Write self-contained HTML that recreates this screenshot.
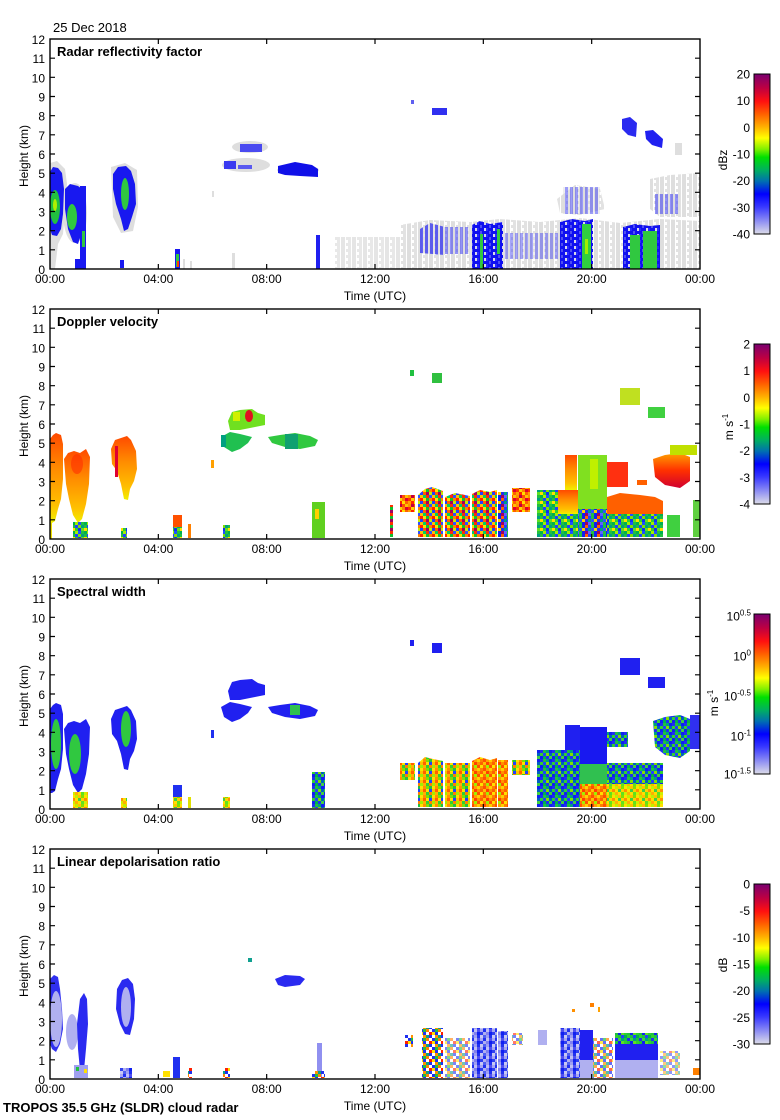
<!DOCTYPE html>
<html><head><meta charset="utf-8"><style>
html,body{margin:0;padding:0;background:#fff;}
svg{display:block;}
text{font-family:"Liberation Sans",Arial,sans-serif;fill:#000;}
</style></head><body>
<svg xmlns="http://www.w3.org/2000/svg" width="780" height="1120" viewBox="0 0 780 1120">
<defs>
<linearGradient id="cb" x1="0" y1="0" x2="0" y2="1">
<stop offset="0" stop-color="#7a0070"/><stop offset="0.09" stop-color="#c00040"/><stop offset="0.17" stop-color="#ff1010"/><stop offset="0.25" stop-color="#ff6000"/><stop offset="0.33" stop-color="#ffb000"/><stop offset="0.40" stop-color="#ffff00"/><stop offset="0.47" stop-color="#80f000"/><stop offset="0.52" stop-color="#00e000"/><stop offset="0.60" stop-color="#00b060"/><stop offset="0.67" stop-color="#0070b0"/><stop offset="0.75" stop-color="#0000ff"/><stop offset="0.83" stop-color="#3838ff"/><stop offset="1" stop-color="#dcdce8"/>
</linearGradient>
<linearGradient id="dopO" x1="0" y1="0" x2="0" y2="1"><stop offset="0" stop-color="#ff4a00"/><stop offset="0.4" stop-color="#ff8c00"/><stop offset="0.8" stop-color="#ffc000"/><stop offset="1" stop-color="#f0f000"/></linearGradient>
<linearGradient id="dopR" x1="0" y1="0" x2="0" y2="1"><stop offset="0" stop-color="#ffa000"/><stop offset="0.5" stop-color="#ff3000"/><stop offset="1" stop-color="#d00030"/></linearGradient>
<pattern id="gs" width="11" height="6" patternUnits="userSpaceOnUse"><rect x="0" y="0" width="4" height="6" fill="#dedede"/><rect x="5" y="0" width="5" height="6" fill="#e2e2e2"/><rect x="5" y="3" width="2" height="3" fill="#ffffff"/></pattern>
<pattern id="bs" width="5" height="4" patternUnits="userSpaceOnUse"><rect x="0" y="0" width="5" height="4" fill="#dcdcdc"/><rect x="0" y="0" width="3" height="4" fill="#3a3af0"/></pattern>
<pattern id="bd" width="9" height="6" patternUnits="userSpaceOnUse"><rect x="0" y="0" width="9" height="6" fill="#1010f0"/><rect x="3" y="0" width="2" height="3" fill="#5050f0"/><rect x="7" y="3" width="2" height="3" fill="#d8d8e8"/><rect x="0" y="3" width="2" height="3" fill="#2828ff"/></pattern>
<pattern id="md" width="12" height="9" patternUnits="userSpaceOnUse"><rect x="0" y="0" width="3" height="3" fill="#ff2000"/><rect x="3" y="0" width="3" height="3" fill="#ffe000"/><rect x="6" y="0" width="3" height="3" fill="#10c030"/><rect x="9" y="0" width="3" height="3" fill="#ff8000"/><rect x="0" y="3" width="3" height="3" fill="#2040ff"/><rect x="3" y="3" width="3" height="3" fill="#ff6000"/><rect x="6" y="3" width="3" height="3" fill="#a00060"/><rect x="9" y="3" width="3" height="3" fill="#c0f000"/><rect x="0" y="6" width="3" height="3" fill="#ffc000"/><rect x="3" y="6" width="3" height="3" fill="#00d060"/><rect x="6" y="6" width="3" height="3" fill="#ff3000"/><rect x="9" y="6" width="3" height="3" fill="#3050ff"/></pattern>
<pattern id="mdr" width="12" height="9" patternUnits="userSpaceOnUse"><rect x="0" y="0" width="3" height="3" fill="#ff3000"/><rect x="3" y="0" width="3" height="3" fill="#ffd000"/><rect x="6" y="0" width="3" height="3" fill="#ff8000"/><rect x="9" y="0" width="3" height="3" fill="#e00030"/><rect x="0" y="3" width="3" height="3" fill="#ffa000"/><rect x="3" y="3" width="3" height="3" fill="#ff2000"/><rect x="6" y="3" width="3" height="3" fill="#ffe000"/><rect x="9" y="3" width="3" height="3" fill="#ff6000"/><rect x="0" y="6" width="3" height="3" fill="#ff9000"/><rect x="3" y="6" width="3" height="3" fill="#c00040"/><rect x="6" y="6" width="3" height="3" fill="#ff5000"/><rect x="9" y="6" width="3" height="3" fill="#ffc000"/></pattern>
<pattern id="mdg" width="12" height="9" patternUnits="userSpaceOnUse"><rect x="0" y="0" width="3" height="3" fill="#20c040"/><rect x="3" y="0" width="3" height="3" fill="#2040ff"/><rect x="6" y="0" width="3" height="3" fill="#80e000"/><rect x="9" y="0" width="3" height="3" fill="#00a080"/><rect x="0" y="3" width="3" height="3" fill="#ffe000"/><rect x="3" y="3" width="3" height="3" fill="#30d030"/><rect x="6" y="3" width="3" height="3" fill="#1030f0"/><rect x="9" y="3" width="3" height="3" fill="#60e020"/><rect x="0" y="6" width="3" height="3" fill="#00b050"/><rect x="3" y="6" width="3" height="3" fill="#a0f000"/><rect x="6" y="6" width="3" height="3" fill="#2050ff"/><rect x="9" y="6" width="3" height="3" fill="#20c040"/></pattern>
<pattern id="mdb" width="12" height="9" patternUnits="userSpaceOnUse"><rect x="0" y="0" width="3" height="3" fill="#2040ff"/><rect x="3" y="0" width="3" height="3" fill="#20c040"/><rect x="6" y="0" width="3" height="3" fill="#1020f0"/><rect x="9" y="0" width="3" height="3" fill="#ff6000"/><rect x="0" y="3" width="3" height="3" fill="#00a080"/><rect x="3" y="3" width="3" height="3" fill="#3050ff"/><rect x="6" y="3" width="3" height="3" fill="#ffd000"/><rect x="9" y="3" width="3" height="3" fill="#2030f0"/><rect x="0" y="6" width="3" height="3" fill="#6060ff"/><rect x="3" y="6" width="3" height="3" fill="#20c040"/><rect x="6" y="6" width="3" height="3" fill="#1020f0"/><rect x="9" y="6" width="3" height="3" fill="#a00060"/></pattern>
<pattern id="msw" width="12" height="9" patternUnits="userSpaceOnUse"><rect x="0" y="0" width="3" height="3" fill="#ffe000"/><rect x="3" y="0" width="3" height="3" fill="#ff9000"/><rect x="6" y="0" width="3" height="3" fill="#80e000"/><rect x="9" y="0" width="3" height="3" fill="#20c040"/><rect x="0" y="3" width="3" height="3" fill="#ffc000"/><rect x="3" y="3" width="3" height="3" fill="#ff6000"/><rect x="6" y="3" width="3" height="3" fill="#ffe000"/><rect x="9" y="3" width="3" height="3" fill="#2040ff"/><rect x="0" y="6" width="3" height="3" fill="#a0f000"/><rect x="3" y="6" width="3" height="3" fill="#ffb000"/><rect x="6" y="6" width="3" height="3" fill="#30d030"/><rect x="9" y="6" width="3" height="3" fill="#ff8000"/></pattern>
<pattern id="mso" width="12" height="9" patternUnits="userSpaceOnUse"><rect x="0" y="0" width="3" height="3" fill="#ff8000"/><rect x="3" y="0" width="3" height="3" fill="#ff5000"/><rect x="6" y="0" width="3" height="3" fill="#ffa000"/><rect x="9" y="0" width="3" height="3" fill="#ffd000"/><rect x="0" y="3" width="3" height="3" fill="#ff6000"/><rect x="3" y="3" width="3" height="3" fill="#ffc000"/><rect x="6" y="3" width="3" height="3" fill="#ff4000"/><rect x="9" y="3" width="3" height="3" fill="#ff9000"/><rect x="0" y="6" width="3" height="3" fill="#ffe000"/><rect x="3" y="6" width="3" height="3" fill="#ff7000"/><rect x="6" y="6" width="3" height="3" fill="#a0f000"/><rect x="9" y="6" width="3" height="3" fill="#ff5000"/></pattern>
<pattern id="mgb" width="12" height="9" patternUnits="userSpaceOnUse"><rect x="0" y="0" width="3" height="3" fill="#2030f0"/><rect x="3" y="0" width="3" height="3" fill="#20c040"/><rect x="6" y="0" width="3" height="3" fill="#00a080"/><rect x="9" y="0" width="3" height="3" fill="#1020f0"/><rect x="0" y="3" width="3" height="3" fill="#30d030"/><rect x="3" y="3" width="3" height="3" fill="#2040ff"/><rect x="6" y="3" width="3" height="3" fill="#80e000"/><rect x="9" y="3" width="3" height="3" fill="#0060c0"/><rect x="0" y="6" width="3" height="3" fill="#1020f0"/><rect x="3" y="6" width="3" height="3" fill="#00b050"/><rect x="6" y="6" width="3" height="3" fill="#2030f0"/><rect x="9" y="6" width="3" height="3" fill="#40d040"/></pattern>
<pattern id="msy" width="12" height="9" patternUnits="userSpaceOnUse"><rect x="0" y="0" width="3" height="3" fill="#ffe000"/><rect x="3" y="0" width="3" height="3" fill="#c0f000"/><rect x="6" y="0" width="3" height="3" fill="#ffc000"/><rect x="9" y="0" width="3" height="3" fill="#80e000"/><rect x="0" y="3" width="3" height="3" fill="#ff9000"/><rect x="3" y="3" width="3" height="3" fill="#ffe000"/><rect x="6" y="3" width="3" height="3" fill="#40d040"/><rect x="9" y="3" width="3" height="3" fill="#ffd000"/><rect x="0" y="6" width="3" height="3" fill="#d0f000"/><rect x="3" y="6" width="3" height="3" fill="#ffb000"/><rect x="6" y="6" width="3" height="3" fill="#ffe000"/><rect x="9" y="6" width="3" height="3" fill="#60e020"/></pattern>
<pattern id="ml" width="12" height="9" patternUnits="userSpaceOnUse"><rect x="0" y="0" width="3" height="3" fill="#2030f0"/><rect x="3" y="0" width="3" height="3" fill="#20c040"/><rect x="6" y="0" width="3" height="3" fill="#ff8000"/><rect x="0" y="3" width="3" height="3" fill="#ffe000"/><rect x="3" y="3" width="3" height="3" fill="#2030f0"/><rect x="9" y="3" width="3" height="3" fill="#ff2000"/><rect x="3" y="6" width="3" height="3" fill="#ff9000"/><rect x="6" y="6" width="3" height="3" fill="#10a080"/><rect x="9" y="6" width="3" height="3" fill="#2030f0"/></pattern>
<pattern id="mlb" width="12" height="9" patternUnits="userSpaceOnUse"><rect x="0" y="0" width="3" height="3" fill="#a8a8f0"/><rect x="3" y="0" width="3" height="3" fill="#2030f0"/><rect x="6" y="0" width="3" height="3" fill="#c0c0f4"/><rect x="9" y="0" width="3" height="3" fill="#5050f0"/><rect x="0" y="3" width="3" height="3" fill="#3040f0"/><rect x="3" y="3" width="3" height="3" fill="#b0b0f0"/><rect x="6" y="3" width="3" height="3" fill="#8080f0"/><rect x="9" y="3" width="3" height="3" fill="#1020f0"/><rect x="0" y="6" width="3" height="3" fill="#c8c8f4"/><rect x="3" y="6" width="3" height="3" fill="#5060f0"/><rect x="6" y="6" width="3" height="3" fill="#a0a0f0"/><rect x="9" y="6" width="3" height="3" fill="#2030f0"/></pattern>
<pattern id="mlg" width="12" height="9" patternUnits="userSpaceOnUse"><rect x="0" y="0" width="3" height="3" fill="#20c040"/><rect x="3" y="0" width="3" height="3" fill="#2030f0"/><rect x="6" y="0" width="3" height="3" fill="#40d040"/><rect x="9" y="0" width="3" height="3" fill="#00a080"/><rect x="0" y="3" width="3" height="3" fill="#30d030"/><rect x="3" y="3" width="3" height="3" fill="#20c040"/><rect x="6" y="3" width="3" height="3" fill="#1020f0"/><rect x="9" y="3" width="3" height="3" fill="#60e020"/><rect x="0" y="6" width="3" height="3" fill="#00b050"/><rect x="3" y="6" width="3" height="3" fill="#30d030"/><rect x="6" y="6" width="3" height="3" fill="#20c040"/><rect x="9" y="6" width="3" height="3" fill="#2040ff"/></pattern>
</defs>

<text x="53" y="32" font-size="13">25 Dec 2018</text>
<text x="3" y="1112" font-size="13" font-weight="bold">TROPOS 35.5 GHz (SLDR) cloud radar</text>

<!-- ================= PANEL 1 ================= -->
<g transform="translate(0,39)">
<g fill="#dedede">
<polygon points="50,124 57,122 65,130 67,145 63,195 58,205 55,230 50,230"/>
<ellipse cx="75" cy="174" rx="12" ry="30"/>
<polygon points="111,128 125,124 137,131 138,168 133,192 121,194 113,178"/>
<rect x="183" y="220" width="2" height="10"/><rect x="190" y="222" width="2" height="8"/>
<rect x="212" y="152" width="2" height="6"/><rect x="232" y="214" width="3" height="16"/>
<ellipse cx="246" cy="126" rx="24" ry="7"/><ellipse cx="250" cy="108" rx="18" ry="6"/>
<ellipse cx="298" cy="131" rx="21" ry="5"/>
<rect x="675" y="104" width="7" height="12"/>
</g>
<rect x="335" y="198" width="65" height="32" fill="url(#gs)" opacity="0.8"/>
<polygon points="400,186 430,181 470,183 500,180 540,183 580,179 620,184 660,180 700,182 700,230 400,230" fill="url(#gs)"/>
<polygon points="557,160 575,146 600,150 605,170 580,176 560,174" fill="url(#gs)"/>
<polygon points="650,140 670,136 700,134 700,178 660,178 650,170" fill="url(#gs)"/>
<polygon fill="#1818f0" points="50,133 53,128 58,129 62,134 64,150 63,175 61,190 57,197 52,196 50,190"/>
<ellipse cx="55" cy="168" rx="5" ry="17" fill="#22c040"/><ellipse cx="55" cy="166" rx="2" ry="6" fill="#b0f000"/>
<polygon fill="#1818f0" points="65,150 70,145 78,147 82,150 83,190 78,205 73,203 68,190 65,170"/>
<ellipse cx="72" cy="178" rx="5" ry="13" fill="#30c840"/>
<rect x="80" y="147" width="6" height="83" fill="#1818f0"/><rect x="82" y="192" width="3" height="16" fill="#30c840"/>
<rect x="75" y="220" width="7" height="10" fill="#1818f0"/>
<polygon fill="#1818f0" points="113,135 118,128 126,127 131,132 135,145 136,165 132,178 128,190 124,192 121,180 116,165 113,150"/>
<ellipse cx="125" cy="155" rx="4" ry="16" fill="#30c840"/>
<rect x="120" y="221" width="4" height="8" fill="#1818f0"/>
<rect x="175" y="210" width="5" height="20" fill="#1818f0"/><rect x="176" y="215" width="3" height="13" fill="#30c840"/><rect x="177" y="222" width="2" height="6" fill="#ff4000"/>
<rect x="224" y="122" width="12" height="8" fill="#3a3af0"/><rect x="238" y="126" width="14" height="4" fill="#5a5af0"/>
<rect x="240" y="105" width="22" height="8" fill="#4a4af0"/>
<polygon fill="#1010e8" points="278,127 295,123 312,126 318,130 318,138 300,137 285,136 278,134"/>
<rect x="316" y="196" width="4" height="34" fill="#2020f0"/>
<polygon points="420,190 430,184 445,188 445,216 420,214" fill="url(#bs)" opacity="0.8"/>
<rect x="445" y="188" width="25" height="27" fill="url(#bs)" opacity="0.55"/>
<polygon points="472,186 480,182 490,185 503,183 503,230 472,230" fill="url(#bd)"/>
<rect x="480" y="195" width="3" height="35" fill="#30c840"/><rect x="497" y="190" width="3" height="25" fill="#30c840"/>
<rect x="505" y="194" width="55" height="26" fill="url(#bs)" opacity="0.45"/>
<polygon points="560,183 572,180 585,182 593,180 593,230 560,230" fill="url(#bd)"/>
<rect x="582" y="185" width="9" height="45" fill="#30d040"/><rect x="585" y="200" width="3" height="15" fill="#a0f000"/>
<rect x="563" y="148" width="37" height="27" fill="url(#bs)" opacity="0.5"/>
<polygon points="623,188 635,185 650,187 660,186 660,230 623,230" fill="url(#bd)"/>
<rect x="630" y="196" width="10" height="34" fill="#30c840"/><rect x="643" y="192" width="14" height="38" fill="#30c840"/>
<rect x="655" y="155" width="25" height="20" fill="url(#bs)" opacity="0.55"/>
<polygon fill="#2a2af0" points="622,80 630,78 637,84 636,98 628,96 622,90"/>
<polygon fill="#2020f0" points="645,92 653,91 663,100 662,109 652,106 646,100"/>
<rect x="432" y="69" width="15" height="7" fill="#3030f0"/><rect x="411" y="61" width="3" height="4" fill="#6060f0"/>
</g>

<!-- ================= PANEL 2 ================= -->
<g transform="translate(0,309)">
<polygon fill="url(#dopO)" points="50,130 53,126 56,124 61,126 63,135 63,170 61,190 58,200 55,212 52,214 50,214"/>
<rect x="50" y="214" width="2" height="16" fill="#f0e000"/>
<polygon fill="url(#dopO)" points="64,150 68,144 74,142 80,144 86,140 90,148 89,175 86,195 82,210 78,214 73,206 69,190 66,175"/>
<ellipse cx="77" cy="155" rx="6" ry="10" fill="#ff3000" opacity="0.6"/>
<rect x="73" y="213" width="15" height="16" fill="url(#mdg)"/>
<polygon fill="url(#dopO)" points="111,140 115,131 121,129 127,127 131,131 136,142 137,160 134,172 130,180 128,191 124,190 121,175 117,162 112,155"/>
<rect x="115" y="137" width="3" height="31" fill="#e00030"/>
<rect x="121" y="219" width="6" height="10" fill="url(#mdg)"/>
<rect x="173" y="206" width="9" height="12" fill="#ff5000"/><rect x="173" y="218" width="9" height="11" fill="url(#mdg)"/>
<rect x="188" y="215" width="3" height="14" fill="#ff8000"/><rect x="211" y="151" width="3" height="8" fill="#ffa000"/>
<rect x="223" y="216" width="7" height="13" fill="url(#mdg)"/>
<polygon fill="#70e020" points="228,112 232,103 240,101 252,100 258,104 265,106 265,116 255,118 240,121 230,121"/>
<ellipse cx="249" cy="107" rx="4" ry="6" fill="#e01020"/><rect x="233" y="103" width="7" height="9" fill="#d0f000"/>
<polygon fill="#20c050" points="221,128 230,123 240,125 252,128 248,134 240,140 232,143 224,138"/>
<rect x="221" y="126" width="5" height="12" fill="#00a080"/>
<polygon fill="#30c840" points="268,128 280,126 295,124 310,127 318,131 315,137 300,140 285,138 272,134"/>
<rect x="285" y="125" width="13" height="15" fill="#10a070"/>
<rect x="312" y="193" width="13" height="36" fill="#60d020"/><rect x="315" y="200" width="4" height="10" fill="#ffd000"/>
<rect x="390" y="196" width="3" height="32" fill="url(#md)"/>
<rect x="400" y="186" width="15" height="17" fill="url(#mdr)"/>
<polygon points="418,186 425,180 432,178 443,182 443,228 418,228" fill="url(#md)"/>
<polygon points="445,188 455,184 470,187 470,228 445,228" fill="url(#md)"/>
<polygon points="472,185 480,181 490,183 497,181 497,228 472,228" fill="url(#md)"/>
<rect x="498" y="183" width="10" height="45" fill="url(#mdb)"/>
<rect x="512" y="179" width="18" height="24" fill="url(#mdr)"/>
<rect x="537" y="181" width="21" height="47" fill="url(#mdg)"/>
<rect x="558" y="181" width="20" height="24" fill="url(#dopO)"/><rect x="558" y="205" width="20" height="23" fill="url(#mdg)"/>
<rect x="565" y="146" width="12" height="35" fill="url(#dopO)"/>
<rect x="578" y="146" width="29" height="54" fill="#80e020"/><rect x="578" y="200" width="29" height="28" fill="url(#mdb)"/>
<rect x="590" y="150" width="8" height="30" fill="#c0f000"/>
<rect x="607" y="153" width="21" height="25" fill="#ff3010"/>
<polygon points="607,188 620,184 640,186 655,188 663,192 663,205 607,205" fill="#ff6000"/><rect x="607" y="205" width="56" height="23" fill="url(#mdg)"/>
<polygon fill="url(#dopR)" points="653,150 665,146 680,144 690,148 690,172 680,179 665,176 655,168"/>
<rect x="670" y="136" width="27" height="10" fill="#c0e000"/>
<rect x="637" y="171" width="10" height="5" fill="#ff6000"/>
<rect x="667" y="206" width="13" height="22" fill="#40d040"/><rect x="693" y="191" width="7" height="37" fill="#60d040"/>
<rect x="620" y="79" width="20" height="17" fill="#c0e020"/><rect x="648" y="98" width="17" height="11" fill="#40d040"/>
<rect x="410" y="61" width="4" height="6" fill="#20c040"/><rect x="432" y="64" width="10" height="10" fill="#30c040"/>
</g>

<!-- ================= PANEL 3 ================= -->
<g transform="translate(0,579)">
<polygon fill="#2020f0" points="50,130 53,126 56,124 61,126 63,135 63,170 61,190 58,200 55,212 52,214 50,214"/>
<ellipse cx="56" cy="165" rx="5" ry="25" fill="#30c840"/>
<polygon fill="#2020f0" points="64,150 68,144 74,142 80,144 86,140 90,148 89,175 86,195 82,210 78,214 73,206 69,190 66,175"/>
<ellipse cx="75" cy="175" rx="6" ry="20" fill="#30c840"/>
<rect x="73" y="213" width="15" height="16" fill="url(#msy)"/>
<polygon fill="#2020f0" points="111,140 115,131 121,129 127,127 131,131 136,142 137,160 134,172 130,180 128,191 124,190 121,175 117,162 112,155"/>
<ellipse cx="126" cy="150" rx="5" ry="18" fill="#30c840"/>
<rect x="121" y="219" width="6" height="10" fill="url(#msy)"/>
<rect x="173" y="206" width="9" height="12" fill="#2030f0"/><rect x="173" y="218" width="9" height="11" fill="url(#msy)"/>
<rect x="188" y="218" width="3" height="11" fill="#e0e000"/><rect x="211" y="151" width="3" height="8" fill="#2030f0"/>
<rect x="223" y="218" width="7" height="11" fill="url(#msy)"/>
<polygon fill="#2020f0" points="228,112 232,103 240,101 252,100 258,104 265,106 265,116 255,118 240,121 230,121"/>
<polygon fill="#2020f0" points="221,128 230,123 240,125 252,128 248,134 240,140 232,143 224,138"/>
<polygon fill="#2020f0" points="268,128 280,126 295,124 310,127 318,131 315,137 300,140 285,138 272,134"/>
<rect x="290" y="126" width="10" height="10" fill="#30c050"/>
<rect x="312" y="193" width="13" height="36" fill="url(#mgb)"/>
<rect x="400" y="184" width="15" height="17" fill="url(#msw)"/>
<polygon points="418,184 425,178 433,180 443,182 443,228 418,228" fill="url(#msw)"/>
<rect x="445" y="184" width="25" height="44" fill="url(#msw)"/>
<polygon points="472,182 480,178 490,181 497,179 497,228 472,228" fill="url(#mso)"/>
<rect x="498" y="181" width="10" height="47" fill="url(#mso)"/>
<rect x="512" y="181" width="18" height="15" fill="url(#msw)"/>
<rect x="537" y="171" width="21" height="57" fill="url(#mgb)"/>
<rect x="558" y="171" width="22" height="57" fill="url(#mgb)"/>
<rect x="565" y="146" width="15" height="25" fill="#2020f0"/>
<rect x="580" y="148" width="27" height="37" fill="#1818f0"/><rect x="580" y="185" width="27" height="20" fill="#30c050"/><rect x="580" y="205" width="27" height="23" fill="url(#mso)"/>
<rect x="607" y="153" width="21" height="15" fill="url(#mgb)"/>
<rect x="607" y="184" width="56" height="21" fill="url(#mgb)"/><rect x="607" y="205" width="56" height="23" fill="url(#msy)"/>
<polygon fill="url(#mgb)" points="653,142 665,138 680,136 690,140 690,172 680,179 665,176 655,168"/>
<rect x="690" y="136" width="10" height="34" fill="#3030f0"/>
<rect x="620" y="79" width="20" height="17" fill="#2020f0"/><rect x="648" y="98" width="17" height="11" fill="#2020f0"/>
<rect x="410" y="61" width="4" height="6" fill="#2020f0"/><rect x="432" y="64" width="10" height="10" fill="#2020f0"/>
</g>

<!-- ================= PANEL 4 ================= -->
<g transform="translate(0,849)">
<polygon fill="#3030f0" points="50,130 54,126 58,128 60,140 62,160 63,180 60,195 56,203 52,200 50,195"/>
<ellipse cx="56" cy="170" rx="6" ry="28" fill="#b0b0f0"/>
<ellipse cx="72" cy="183" rx="6" ry="18" fill="#b0b0f0"/>
<polygon fill="#2a2af0" points="80,150 84,144 87,150 88,175 86,200 84,221 80,221 78,200 77,175"/>
<rect x="74" y="216" width="14" height="13" fill="#a0a0f0"/><rect x="76" y="218" width="3" height="4" fill="#20c040"/><rect x="84" y="220" width="3" height="4" fill="#ffe000"/>
<polygon fill="#2a2af0" points="117,140 122,131 128,129 133,135 135,150 134,170 130,186 125,185 120,175 116,160"/>
<ellipse cx="126" cy="158" rx="5" ry="20" fill="#b0b0f0"/>
<rect x="120" y="219" width="12" height="10" fill="url(#mlb)"/>
<rect x="163" y="222" width="7" height="6" fill="#ffe000"/>
<rect x="173" y="208" width="7" height="21" fill="#2030f0"/>
<rect x="188" y="219" width="4" height="10" fill="url(#ml)"/>
<rect x="223" y="219" width="7" height="10" fill="url(#ml)"/>
<rect x="248" y="109" width="4" height="4" fill="#10a090"/>
<polygon fill="#2a2af0" points="275,130 285,126 300,127 305,130 300,136 285,138 278,136"/>
<rect x="317" y="194" width="5" height="34" fill="#9090f0"/>
<rect x="312" y="222" width="13" height="7" fill="url(#ml)"/>
<rect x="405" y="186" width="8" height="12" fill="url(#ml)"/>
<rect x="422" y="179" width="21" height="50" fill="url(#ml)"/>
<rect x="445" y="189" width="25" height="40" fill="url(#ml)" opacity="0.6"/>
<rect x="472" y="179" width="25" height="50" fill="url(#mlb)"/>
<rect x="498" y="182" width="10" height="47" fill="url(#mlb)"/>
<rect x="512" y="184" width="11" height="12" fill="url(#ml)" opacity="0.6"/>
<rect x="538" y="181" width="9" height="15" fill="#b0b0f0"/>
<rect x="560" y="179" width="20" height="50" fill="url(#mlb)"/>
<rect x="580" y="181" width="13" height="30" fill="#2020f0"/><rect x="580" y="211" width="13" height="18" fill="#b0b0f0"/>
<rect x="593" y="189" width="20" height="40" fill="url(#ml)" opacity="0.7"/>
<rect x="615" y="184" width="43" height="11" fill="url(#mlg)"/><rect x="615" y="195" width="43" height="16" fill="#2020f0"/><rect x="615" y="211" width="43" height="18" fill="#b0b0f0"/>
<rect x="660" y="202" width="20" height="24" fill="url(#ml)" opacity="0.5"/>
<rect x="572" y="160" width="3" height="3" fill="#ff9000"/><rect x="590" y="154" width="4" height="4" fill="#ff8000"/><rect x="598" y="158" width="2" height="5" fill="#ffa000"/>
<rect x="693" y="219" width="7" height="7" fill="#ff8000"/>
</g>

<!-- ================= AXES ================= -->
<g fill="none" stroke="#000" stroke-width="1.4">
<rect x="50" y="39" width="650" height="230"/>
<rect x="50" y="309" width="650" height="230"/>
<rect x="50" y="579" width="650" height="230"/>
<rect x="50" y="849" width="650" height="230"/>
</g>

<g transform="translate(0,39)">
<path stroke="#000" stroke-width="1.2" d="M50,210.83h5M50,191.67h5M50,172.5h5M50,153.33h5M50,134.17h5M50,115h5M50,95.83h5M50,76.67h5M50,57.5h5M50,38.33h5M50,19.17h5M700,210.83h-5M700,191.67h-5M700,172.5h-5M700,153.33h-5M700,134.17h-5M700,115h-5M700,95.83h-5M700,76.67h-5M700,57.5h-5M700,38.33h-5M700,19.17h-5M158.33,230v-5M266.67,230v-5M375,230v-5M483.33,230v-5M591.67,230v-5M158.33,0v5M266.67,0v5M375,0v5M483.33,0v5M591.67,0v5"/>
<g font-size="12" text-anchor="end">
<text x="45" y="235">0</text><text x="45" y="215.8">1</text><text x="45" y="196.7">2</text><text x="45" y="177.5">3</text><text x="45" y="158.3">4</text><text x="45" y="139.2">5</text><text x="45" y="120">6</text><text x="45" y="100.8">7</text><text x="45" y="81.7">8</text><text x="45" y="62.5">9</text><text x="45" y="43.3">10</text><text x="45" y="24.2">11</text><text x="45" y="5">12</text>
</g>
<g font-size="12" text-anchor="middle">
<text x="50" y="244">00:00</text><text x="158.33" y="244">04:00</text><text x="266.67" y="244">08:00</text><text x="375" y="244">12:00</text><text x="483.33" y="244">16:00</text><text x="591.67" y="244">20:00</text><text x="700" y="244">00:00</text>
<text x="375" y="261">Time (UTC)</text>
<text transform="translate(28,117) rotate(-90)">Height (km)</text>
</g>
<text x="57" y="17" font-size="13" font-weight="bold">Radar reflectivity factor</text>
<rect x="754" y="35" width="16" height="160" fill="url(#cb)" stroke="#000" stroke-width="1"/>
<g font-size="12" text-anchor="end">
<text x="750" y="39.5">20</text><text x="750" y="66">10</text><text x="750" y="93">0</text><text x="750" y="119.5">-10</text><text x="750" y="146">-20</text><text x="750" y="173">-30</text><text x="750" y="199.5">-40</text>
</g>
<text transform="translate(727,121) rotate(-90)" font-size="12" text-anchor="middle">dBz</text>
</g>

<g transform="translate(0,309)">
<path stroke="#000" stroke-width="1.2" d="M50,210.83h5M50,191.67h5M50,172.5h5M50,153.33h5M50,134.17h5M50,115h5M50,95.83h5M50,76.67h5M50,57.5h5M50,38.33h5M50,19.17h5M700,210.83h-5M700,191.67h-5M700,172.5h-5M700,153.33h-5M700,134.17h-5M700,115h-5M700,95.83h-5M700,76.67h-5M700,57.5h-5M700,38.33h-5M700,19.17h-5M158.33,230v-5M266.67,230v-5M375,230v-5M483.33,230v-5M591.67,230v-5M158.33,0v5M266.67,0v5M375,0v5M483.33,0v5M591.67,0v5"/>
<g font-size="12" text-anchor="end">
<text x="45" y="235">0</text><text x="45" y="215.8">1</text><text x="45" y="196.7">2</text><text x="45" y="177.5">3</text><text x="45" y="158.3">4</text><text x="45" y="139.2">5</text><text x="45" y="120">6</text><text x="45" y="100.8">7</text><text x="45" y="81.7">8</text><text x="45" y="62.5">9</text><text x="45" y="43.3">10</text><text x="45" y="24.2">11</text><text x="45" y="5">12</text>
</g>
<g font-size="12" text-anchor="middle">
<text x="50" y="244">00:00</text><text x="158.33" y="244">04:00</text><text x="266.67" y="244">08:00</text><text x="375" y="244">12:00</text><text x="483.33" y="244">16:00</text><text x="591.67" y="244">20:00</text><text x="700" y="244">00:00</text>
<text x="375" y="261">Time (UTC)</text>
<text transform="translate(28,117) rotate(-90)">Height (km)</text>
</g>
<text x="57" y="17" font-size="13" font-weight="bold">Doppler velocity</text>
<rect x="754" y="35" width="16" height="160" fill="url(#cb)" stroke="#000" stroke-width="1"/>
<g font-size="12" text-anchor="end">
<text x="750" y="39.5">2</text><text x="750" y="66">1</text><text x="750" y="93">0</text><text x="750" y="119.5">-1</text><text x="750" y="146">-2</text><text x="750" y="173">-3</text><text x="750" y="199.5">-4</text>
</g>
<text transform="translate(733,118) rotate(-90)" font-size="12" text-anchor="middle">m s<tspan font-size="8" dy="-5">-1</tspan></text>
</g>

<g transform="translate(0,579)">
<path stroke="#000" stroke-width="1.2" d="M50,210.83h5M50,191.67h5M50,172.5h5M50,153.33h5M50,134.17h5M50,115h5M50,95.83h5M50,76.67h5M50,57.5h5M50,38.33h5M50,19.17h5M700,210.83h-5M700,191.67h-5M700,172.5h-5M700,153.33h-5M700,134.17h-5M700,115h-5M700,95.83h-5M700,76.67h-5M700,57.5h-5M700,38.33h-5M700,19.17h-5M158.33,230v-5M266.67,230v-5M375,230v-5M483.33,230v-5M591.67,230v-5M158.33,0v5M266.67,0v5M375,0v5M483.33,0v5M591.67,0v5"/>
<g font-size="12" text-anchor="end">
<text x="45" y="235">0</text><text x="45" y="215.8">1</text><text x="45" y="196.7">2</text><text x="45" y="177.5">3</text><text x="45" y="158.3">4</text><text x="45" y="139.2">5</text><text x="45" y="120">6</text><text x="45" y="100.8">7</text><text x="45" y="81.7">8</text><text x="45" y="62.5">9</text><text x="45" y="43.3">10</text><text x="45" y="24.2">11</text><text x="45" y="5">12</text>
</g>
<g font-size="12" text-anchor="middle">
<text x="50" y="244">00:00</text><text x="158.33" y="244">04:00</text><text x="266.67" y="244">08:00</text><text x="375" y="244">12:00</text><text x="483.33" y="244">16:00</text><text x="591.67" y="244">20:00</text><text x="700" y="244">00:00</text>
<text x="375" y="261">Time (UTC)</text>
<text transform="translate(28,117) rotate(-90)">Height (km)</text>
</g>
<text x="57" y="17" font-size="13" font-weight="bold">Spectral width</text>
<rect x="754" y="35" width="16" height="160" fill="url(#cb)" stroke="#000" stroke-width="1"/>
<g font-size="12" text-anchor="end">
<text x="751" y="41.5">10<tspan font-size="8" dy="-5">0.5</tspan></text>
<text x="751" y="81.5">10<tspan font-size="8" dy="-5">0</tspan></text>
<text x="751" y="121.5">10<tspan font-size="8" dy="-5">-0.5</tspan></text>
<text x="751" y="161.5">10<tspan font-size="8" dy="-5">-1</tspan></text>
<text x="751" y="199.5">10<tspan font-size="8" dy="-5">-1.5</tspan></text>
</g>
<text transform="translate(718,124) rotate(-90)" font-size="12" text-anchor="middle">m s<tspan font-size="8" dy="-5">-1</tspan></text>
</g>

<g transform="translate(0,849)">
<path stroke="#000" stroke-width="1.2" d="M50,210.83h5M50,191.67h5M50,172.5h5M50,153.33h5M50,134.17h5M50,115h5M50,95.83h5M50,76.67h5M50,57.5h5M50,38.33h5M50,19.17h5M700,210.83h-5M700,191.67h-5M700,172.5h-5M700,153.33h-5M700,134.17h-5M700,115h-5M700,95.83h-5M700,76.67h-5M700,57.5h-5M700,38.33h-5M700,19.17h-5M158.33,230v-5M266.67,230v-5M375,230v-5M483.33,230v-5M591.67,230v-5M158.33,0v5M266.67,0v5M375,0v5M483.33,0v5M591.67,0v5"/>
<g font-size="12" text-anchor="end">
<text x="45" y="235">0</text><text x="45" y="215.8">1</text><text x="45" y="196.7">2</text><text x="45" y="177.5">3</text><text x="45" y="158.3">4</text><text x="45" y="139.2">5</text><text x="45" y="120">6</text><text x="45" y="100.8">7</text><text x="45" y="81.7">8</text><text x="45" y="62.5">9</text><text x="45" y="43.3">10</text><text x="45" y="24.2">11</text><text x="45" y="5">12</text>
</g>
<g font-size="12" text-anchor="middle">
<text x="50" y="244">00:00</text><text x="158.33" y="244">04:00</text><text x="266.67" y="244">08:00</text><text x="375" y="244">12:00</text><text x="483.33" y="244">16:00</text><text x="591.67" y="244">20:00</text><text x="700" y="244">00:00</text>
<text x="375" y="261">Time (UTC)</text>
<text transform="translate(28,117) rotate(-90)">Height (km)</text>
</g>
<text x="57" y="17" font-size="13" font-weight="bold">Linear depolarisation ratio</text>
<rect x="754" y="35" width="16" height="160" fill="url(#cb)" stroke="#000" stroke-width="1"/>
<g font-size="12" text-anchor="end">
<text x="750" y="39.5">0</text><text x="750" y="66">-5</text><text x="750" y="93">-10</text><text x="750" y="119.5">-15</text><text x="750" y="146">-20</text><text x="750" y="173">-25</text><text x="750" y="199.5">-30</text>
</g>
<text transform="translate(727,116) rotate(-90)" font-size="12" text-anchor="middle">dB</text>
</g>
</svg>
</body></html>
